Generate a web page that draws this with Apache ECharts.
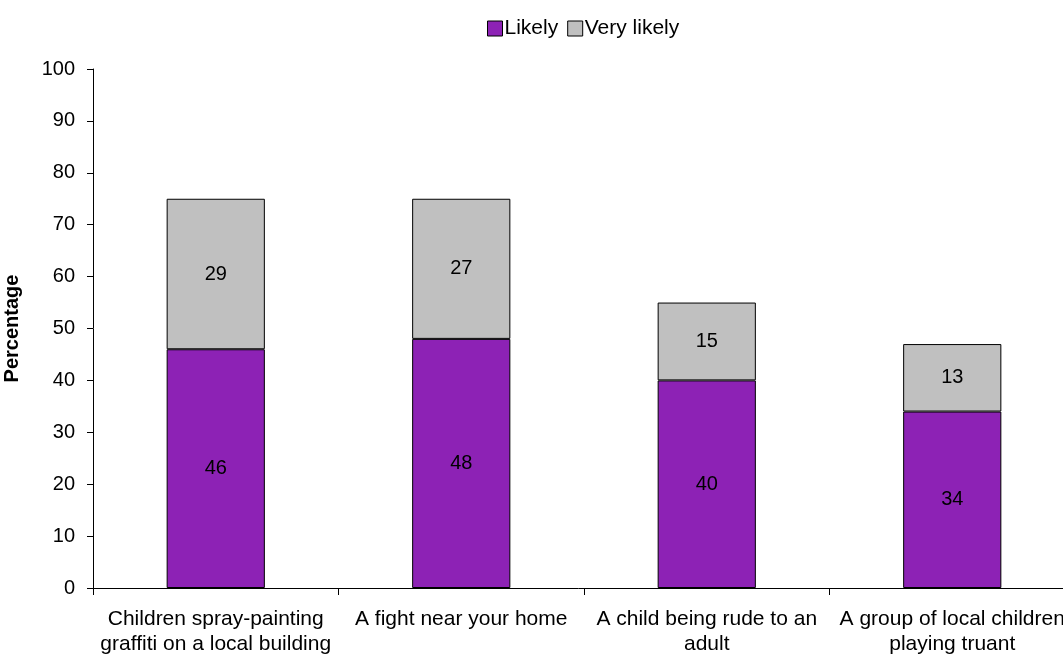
<!DOCTYPE html>
<html>
<head>
<meta charset="utf-8">
<script src="https://cdn.jsdelivr.net/npm/echarts@6/dist/echarts.min.js"></script>
<style>
  html, body { margin: 0; padding: 0; background: #fff; overflow: hidden; }
  #chart { width: 1063px; height: 655px; }
</style>
</head>
<body>
<div id="chart"></div>
<script>
// Situations asked about
const categories = [
  'Children spray-painting\ngraffiti on a local building',
  'A fight near your home',
  'A child being rude to an\nadult',
  'A group of local children\nplaying truant'
];
// Percentage answering each option
const likely = [46, 48, 40, 34];
const veryLikely = [29, 27, 15, 13];
const yTicks = [0, 10, 20, 30, 40, 50, 60, 70, 80, 90, 100];

const font = 'Liberation Sans, Arial, sans-serif';
const chart = echarts.init(document.getElementById('chart'));

const labelStyle = {
  show: true,
  position: 'inside',
  color: '#000',
  fontFamily: font,
  fontSize: 20
};

chart.setOption({
  animation: false,
  legend: {
    top: 13,
    left: 482,
    itemWidth: 15,
    itemHeight: 15,
    itemGap: 9,
    icon: 'rect',
    itemStyle: { borderColor: '#000', borderWidth: 1 },
    textStyle: { fontFamily: font, fontSize: 21, color: '#000', padding: [0, 0, 0, -3] },
    data: ['Likely', 'Very likely']
  },
  grid: {
    left: 93, top: 69, right: -12, bottom: 67,
    containLabel: false,
    outerBoundsMode: 'none'
  },
  xAxis: {
    type: 'category',
    data: categories,
    axisLine: { lineStyle: { color: '#000', width: 1 } },
    axisTick: { show: true, length: 7, lineStyle: { color: '#000' } },
    axisLabel: {
      color: '#000', fontFamily: font, fontSize: 21, lineHeight: 25,
      margin: 19, interval: 0, hideOverlap: false
    },
    splitLine: { show: false }
  },
  yAxis: {
    type: 'value',
    min: yTicks[0],
    max: yTicks[yTicks.length - 1],
    interval: 10,
    name: 'Percentage',
    nameLocation: 'middle',
    nameGap: 71,
    nameRotate: 90,
    nameTextStyle: { fontFamily: font, fontSize: 20, fontWeight: 'bold', color: '#000' },
    axisLine: { show: true, lineStyle: { color: '#000', width: 1 } },
    axisTick: { show: true, length: 6, lineStyle: { color: '#000' } },
    axisLabel: { color: '#000', fontFamily: font, fontSize: 20, margin: 18 },
    splitLine: { show: false }
  },
  series: [
    {
      name: 'Likely',
      type: 'bar',
      stack: 'total',
      data: likely,
      barWidth: '40%',
      itemStyle: { color: '#8D22B5', borderColor: '#000', borderWidth: 1 },
      label: labelStyle
    },
    {
      name: 'Very likely',
      type: 'bar',
      stack: 'total',
      data: veryLikely,
      barWidth: '40%',
      itemStyle: { color: '#C0C0C0', borderColor: '#000', borderWidth: 1 },
      label: labelStyle
    }
  ]
});
</script>
</body>
</html>
